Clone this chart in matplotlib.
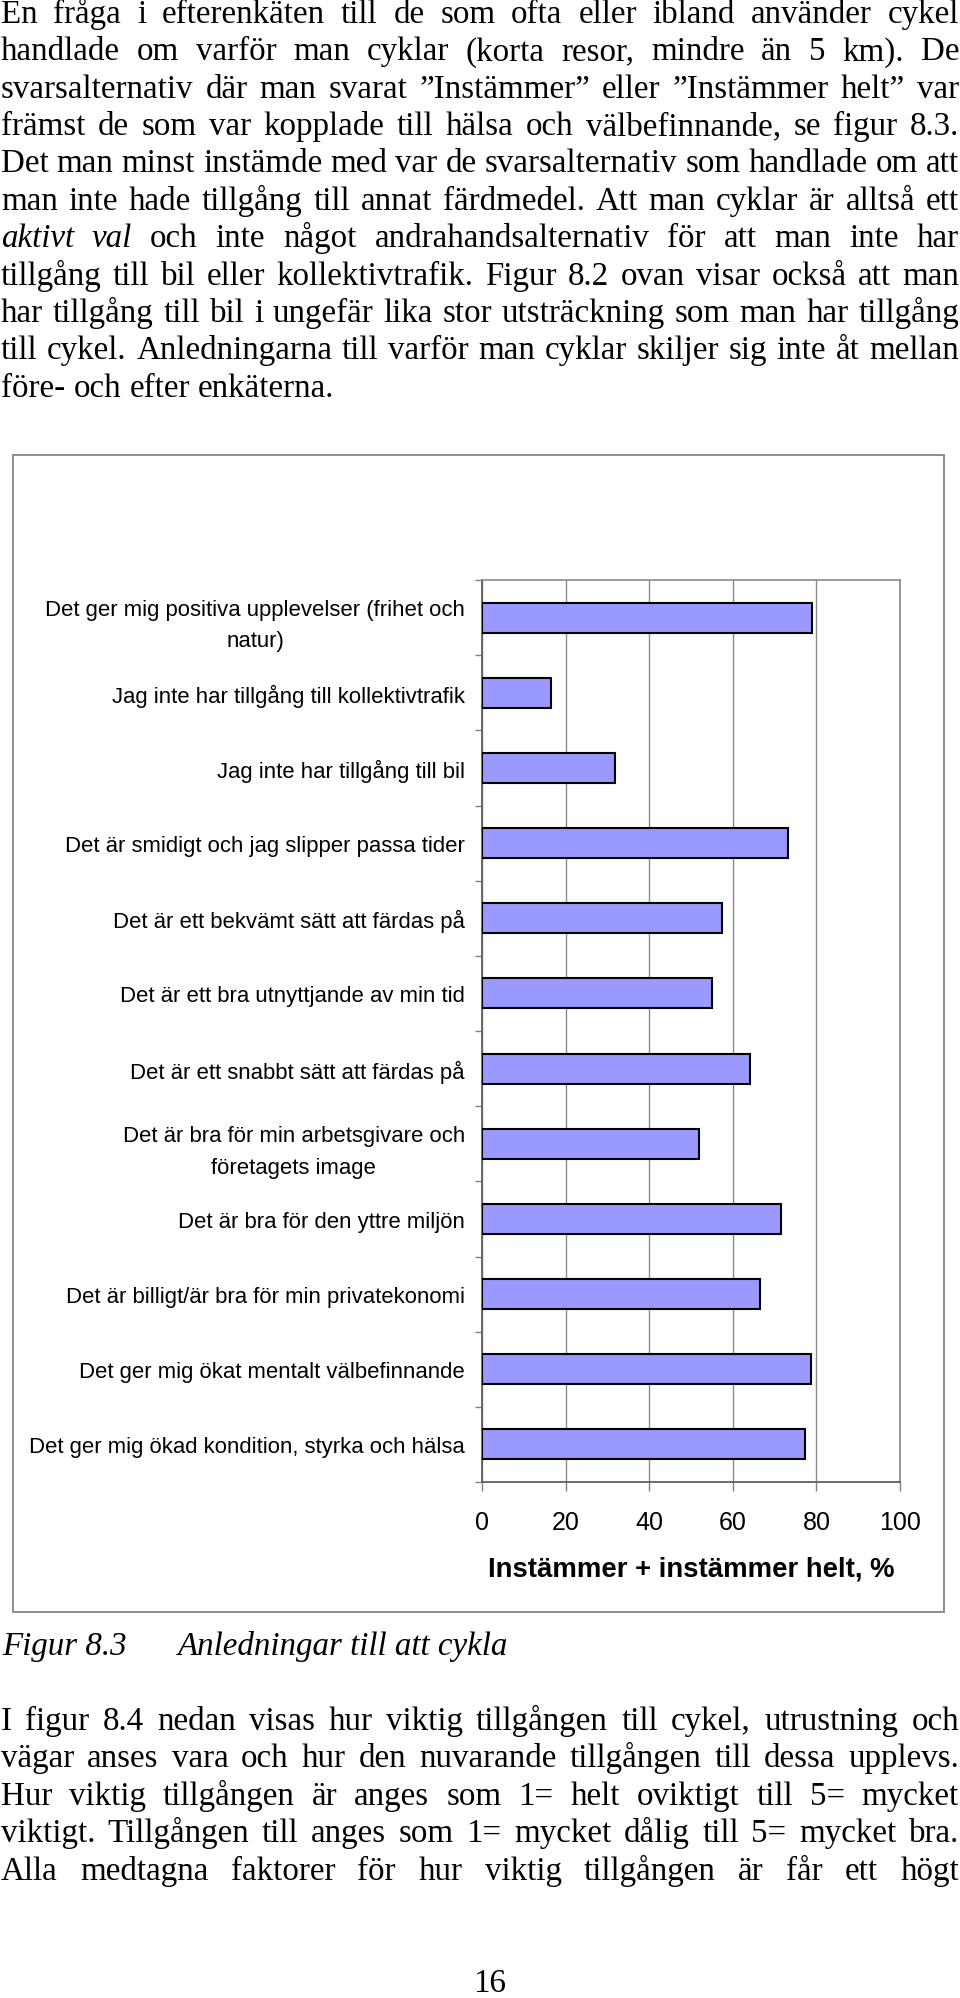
import matplotlib
matplotlib.use('Agg')
import matplotlib.pyplot as plt
from matplotlib.patches import Rectangle
import numpy as np

# ---------------- data ----------------
categories = [
    "Det ger mig positiva upplevelser (frihet och\nnatur)",
    "Jag inte har tillgång till kollektivtrafik",
    "Jag inte har tillgång till bil",
    "Det är smidigt och jag slipper passa tider",
    "Det är ett bekvämt sätt att färdas på",
    "Det är ett bra utnyttjande av min tid",
    "Det är ett snabbt sätt att färdas på",
    "Det är bra för min arbetsgivare och\nföretagets image",
    "Det är bra för den yttre miljön",
    "Det är billigt/är bra för min privatekonomi",
    "Det ger mig ökat mentalt välbefinnande",
    "Det ger mig ökad kondition, styrka och hälsa",
]
values = [79, 16.5, 31.8, 73.3, 57.3, 55, 64, 52, 71.5, 66.6, 78.8, 77.3]
xticks = [0, 20, 40, 60, 80, 100]
xtick_labels = ["0", "20", "40", "60", "80", "100"]
xlabel = "Instämmer + instämmer helt, %"

para1 = [
    "En fråga i efterenkäten till de som ofta eller ibland använder cykel",
    "handlade om varför man cyklar (korta resor, mindre än 5 km). De",
    "svarsalternativ där man svarat ”Instämmer” eller ”Instämmer helt” var",
    "främst de som var kopplade till hälsa och välbefinnande, se figur 8.3.",
    "Det man minst instämde med var de svarsalternativ som handlade om att",
    "man inte hade tillgång till annat färdmedel. Att man cyklar är alltså ett",
    "_aktivt_ _val_ och inte något andrahandsalternativ för att man inte har",
    "tillgång till bil eller kollektivtrafik. Figur 8.2 ovan visar också att man",
    "har tillgång till bil i ungefär lika stor utsträckning som man har tillgång",
    "till cykel.  Anledningarna till varför man cyklar skiljer sig inte åt mellan",
    "före- och efter enkäterna.",
]
para2 = [
    "I figur 8.4 nedan visas hur viktig tillgången till cykel, utrustning och",
    "vägar anses vara och hur den nuvarande tillgången till dessa upplevs.",
    "Hur viktig tillgången är anges som 1= helt oviktigt till 5= mycket",
    "viktigt. Tillgången till anges som 1= mycket dålig till 5= mycket bra.",
    "Alla medtagna faktorer för hur viktig tillgången är får ett högt",
]
caption_num = "Figur 8.3"
caption_txt = "Anledningar till att cykla"
page_number = "16"

# ---------------- layout ----------------
W, H, DPI = 960, 1999, 100
plt.rcParams['font.family'] = ['Liberation Sans', 'DejaVu Sans']
SERIF = ['Liberation Serif', 'DejaVu Serif']
SANS = ['Liberation Sans', 'DejaVu Sans']

fig = plt.figure(figsize=(W / DPI, H / DPI), dpi=DPI)
fig.patch.set_facecolor('white')


def pt(px):
    return px * 72.0 / DPI


def fy(py):
    return 1 - py / H


renderer = fig.canvas.get_renderer()
BODY_PX = 33.0
body_pt = pt(BODY_PX)


def draw_block(lines, baselines, justify_last=False, x0=1, x1=959):
    for i, (line, yb) in enumerate(zip(lines, baselines)):
        words = line.split()
        texts = []
        for w in words:
            style = 'normal'
            if w.startswith('_') and w.endswith('_'):
                w = w.strip('_')
                style = 'italic'
            t = fig.text(0, fy(yb), w, fontsize=body_pt, family=SERIF,
                         style=style, ha='left', va='baseline', color='black')
            texts.append(t)
        widths = [t.get_window_extent(renderer).width for t in texts]
        last = (i == len(lines) - 1) and not justify_last
        if last or len(texts) == 1:
            gap = 0.25 * BODY_PX
        else:
            gap = (x1 - x0 - sum(widths)) / (len(texts) - 1)
            if gap < 0.12 * BODY_PX:
                scale = (x1 - x0 - 0.15 * BODY_PX * (len(texts) - 1)) / sum(widths)
                for t in texts:
                    t.set_fontsize(body_pt * scale)
                widths = [t.get_window_extent(renderer).width for t in texts]
                gap = (x1 - x0 - sum(widths)) / (len(texts) - 1)
        x = x0
        for t, w in zip(texts, widths):
            t.set_x(x / W)
            x += w + gap


base1 = [23 + 37.36 * k for k in range(len(para1))]
base2 = [1730 + 37.4 * k for k in range(len(para2))]
draw_block(para1, base1, justify_last=False)
draw_block(para2, base2, justify_last=True)

# caption and page number
fig.text(2 / W, fy(1655), caption_num, fontsize=body_pt, family=SERIF,
         style='italic', ha='left', va='baseline')
fig.text(178 / W, fy(1655), caption_txt, fontsize=body_pt, family=SERIF,
         style='italic', ha='left', va='baseline')
fig.text(490 / W, fy(1992), page_number, fontsize=body_pt, family=SERIF,
         ha='center', va='baseline')

# outer chart frame
fig.add_artist(Rectangle((13 / W, fy(1613)), (944 - 13) / W, (1613 - 456) / H,
                         transform=fig.transFigure, fill=False,
                         edgecolor='#858585', linewidth=1.3))

# ---------------- chart ----------------
ax = fig.add_axes([482 / W, fy(1483), 418 / W, 902 / H])
n = len(categories)
ypos = np.arange(n)
ax.barh(ypos, values, height=0.4, color='#9999FF', edgecolor='black',
        linewidth=1.5, zorder=3)
ax.set_xlim(0, 100)
ax.set_ylim(n - 0.5, -0.5)
ax.set_axisbelow(True)
ax.xaxis.grid(True, color='#8a8a8a', linewidth=1.0, zorder=0)

for side in ['top', 'right']:
    ax.spines[side].set_color('#8a8a8a')
    ax.spines[side].set_linewidth(1.2)
for side in ['left', 'bottom']:
    ax.spines[side].set_color('#606060')
    ax.spines[side].set_linewidth(1.3)

ax.set_yticks(ypos)
ax.set_yticklabels(categories, fontsize=pt(22.2), family=SANS)
ax.set_yticks(np.arange(-0.5, n, 1.0), minor=True)
ax.tick_params(axis='y', which='major', length=0, pad=pt(17))
ax.tick_params(axis='y', which='minor', length=pt(7), width=1.0,
               color='#808080', direction='out')
for lbl in ax.get_yticklabels():
    lbl.set_multialignment('center')
    lbl.set_linespacing(1.65)

ax.set_xticks(xticks)
ax.set_xticklabels(xtick_labels, fontsize=pt(25), family=SANS)
ax.tick_params(axis='x', which='major', length=pt(9), width=1.0,
               color='#808080', pad=pt(19), direction='out')

ax.set_xlabel(xlabel, fontsize=pt(27.5), fontweight='bold', family=SANS,
              va='center')
ax.xaxis.set_label_coords(0.5, -(1570 - 1483) / 902)

fig.savefig('out.png', dpi=DPI, facecolor='white')
